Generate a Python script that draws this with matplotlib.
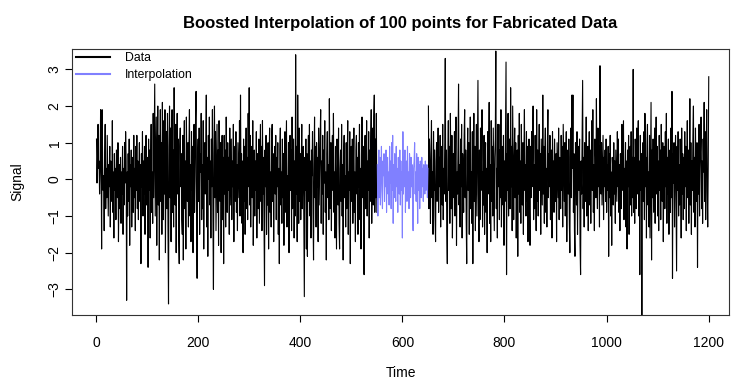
import numpy as np
import matplotlib
matplotlib.use("Agg")
import matplotlib.pyplot as plt

plt.rcParams['font.family'] = ['Liberation Sans', 'DejaVu Sans']

# observed data, t = 1..550
data_a = [
    1.1, -0.1, 0.6, 1.5, 0.3, 0.5, -0.4, 0.2, 1.9, 0.8, -1.9, 1.9, 0.4, -0.3, 0.1, -1.4, 0.6, 1.5, -0.8, 0.3, -0.5, 1.2, 0.0, -1.0, 0.4, -0.2, 0.9, -1.3, 0.5, 0.1, -0.6, 1.6, -0.9, 0.2, -1.6, 0.7, -0.3, 0.3, -1.1, 0.8, 0.1, -0.5, 1.0, -1.7, -0.2, 0.4, -0.8, 0.6, -1.2, 0.2,
    -0.4, 0.9, -1.5, 0.3, -0.7, 1.0, -0.1, 1.3, 0.5, -3.3, 0.2, -1.0, 0.7, -0.6, 1.1, -1.8, 0.4, -0.2, 0.8, -1.3, 0.0, 0.6, -0.9, 1.2, -0.5, 0.3, -1.4, 0.9, -0.3, 1.2, -0.8, 0.5, -1.1, 0.2, 1.0, -0.6, 0.4, -2.3, 0.7, -0.2, 1.3, -1.0, 0.5, -0.4, 0.9, -1.5, 0.1, 1.2, -0.7, 0.3,
    0.6, -2.4, 1.1, -0.3, 0.8, -1.6, 0.4, 1.5, -0.9, 0.2, -1.2, 1.8, -0.5, 0.9, 2.6, -1.0, 0.3, 1.7, -1.8, 0.6, 2.0, -0.7, 1.2, -2.2, 0.4, 1.9, -0.6, 1.0, -1.5, 2.1, 0.2, -1.1, 1.6, -0.4, 1.9, -2.0, 0.7, 1.3, -0.8, 1.8, -1.4, -3.4, 0.9, 2.0, -0.5, 1.4, -1.7, 0.5, 1.9, -0.9,
    0.8, -1.3, 2.5, 0.1, -0.7, 1.5, -2.0, 0.6, 1.8, -0.4, 1.1, -1.6, -2.3, 0.9, 1.4, -0.2, 0.7, -1.1, -1.5, 1.2, -2.2, 0.3, 1.6, -0.8, 0.5, -1.9, 1.7, 0.2, -0.6, 1.0, -1.3, 0.8, 1.9, -1.0, 0.4, -1.7, 1.3, -0.3, 0.9, -2.0, 0.6, 1.5, -0.9, 0.1, 1.7, 2.4, -1.2, -2.7, 0.5, 1.1,
    -0.6, 1.4, -1.5, 0.7, 0.2, 1.8, -1.1, 0.4, -0.8, 1.6, -1.9, 0.3, 1.0, -0.4, 0.8, 2.3, -1.3, 0.6, -2.1, 1.2, 0.0, 1.7, -0.7, 0.5, -1.6, 1.1, -0.2, 1.9, -1.0, -3.0, 0.7, 2.0, -0.5, 1.3, -1.4, 0.2, 1.5, -0.9, 0.8, -1.8, 1.6, 0.3, -0.6, 1.0, -2.0, 0.4, 1.2, -1.1, 0.6, -2.3,
    1.2, -0.4, 0.8, -1.3, 1.7, 0.2, -0.9, 1.0, -0.3, 0.6, -1.5, 1.4, -0.7, 0.3, 1.1, -1.1, 0.5, -0.2, 1.5, -1.7, 0.9, 0.1, -0.6, 1.3, -0.9, 0.4, -1.4, 1.0, 0.2, -0.5, 1.6, -1.0, 2.3, -0.3, 0.7, -1.2, 0.5, -2.0, 1.1, -0.6, 0.9, -1.5, 0.3, 1.4, -0.8, 0.6, -1.1, 1.8, -0.2, 2.5,
    -0.7, 1.2, -1.3, 0.4, 0.9, -0.5, 1.6, -1.8, 0.2, 0.8, -1.0, 0.5, -0.3, 1.3, -1.6, 0.7, 0.1, -0.8, 1.1, -1.2, 0.3, 1.5, -0.6, 0.9, -1.4, 1.6, -0.4, 0.6, -1.1, -2.9, 0.8, -0.2, 1.2, -1.5, 0.4, -0.7, 1.0, -1.9, 0.5, 1.4, -0.9, 0.2, -1.3, 1.1, 1.5, -0.6, 0.7, -1.7, 0.3, 0.9,
    -0.4, 1.2, -1.1, 0.6, -0.2, 1.0, -1.5, 0.3, -2.3, 0.8, 1.4, -0.7, 0.2, -1.2, 1.1, -0.5, 0.7, -1.8, 0.4, 1.3, -0.9, 0.5, 1.6, -1.3, 0.1, -0.6, 1.0, -2.0, 0.6, 1.2, -0.3, 0.8, -1.4, 1.7, -0.8, 0.2, 1.1, -1.6, 0.5, -1.0, 3.4, -0.4, 0.9, -1.7, 2.3, 0.3, -1.2, 1.4, -0.6, 0.7,
    -1.1, 0.4, 1.5, -0.8, 0.2, 0.9, -1.4, -3.2, 0.6, -0.3, 1.1, -1.9, 0.7, -2.1, 0.3, 1.2, -0.6, 1.5, -1.0, 0.5, -1.6, 0.8, 0.1, 1.3, -0.9, -2.2, 0.4, 1.7, -0.5, 0.9, -1.3, 1.0, -0.2, 0.6, -1.7, 1.4, -0.7, 0.3, 1.1, 1.9, -1.2, 0.5, -0.4, 1.2, -1.5, 0.8, -0.1, 1.6, -0.9, 0.2,
    -2.2, 0.7, 1.3, -0.5, 0.4, -1.1, 2.2, 0.3, -0.8, 1.0, -1.4, 0.6, 1.2, -0.3, 1.8, -0.9, 0.2, -1.6, 0.9, -0.4, -1.9, 1.1, 0.5, -0.7, 1.4, -1.2, -1.9, 0.3, 0.8, -0.6, 1.5, -1.0, 0.4, -2.2, 0.7, 1.2, -0.5, 0.1, -1.3, 1.0, -0.8, 0.6, 1.6, -1.5, 0.2, -0.3, 1.3, -2.3, 0.5, 0.9,
    -0.6, 1.1, -1.2, 0.4, 1.4, -0.9, 0.2, -1.7, 0.8, 1.2, -0.4, 0.6, -1.5, 1.0, -0.2, 1.5, -1.1, 0.3, -1.9, 0.7, 1.7, -0.5, 0.9, -1.3, -2.6, 0.4, 1.2, -0.8, 0.1, 1.6, -1.0, 0.5, -0.3, 1.3, -1.6, 0.8, -0.6, 1.0, 1.9, -1.2, 0.3, 1.4, -0.7, 1.7, 2.3, -0.9, 1.1, -0.5, 1.8, -0.9,
]

# boosted interpolation over the gap, t = 551..650
interp = [
    0.4, -1.0, 0.3, 0.8, -0.5, 0.6, -0.7, 0.2, 0.9, -0.3, -0.8, 0.5, 0.1, 0.7, -0.6, 0.4, -0.2, 0.8, -0.9, 0.3, 0.6, -0.4, 0.2, -0.7, 0.9, -0.1, 0.5, -0.8, 1.0, -0.3, 1.2, -1.2, 0.4, -0.5, 0.7, 0.1, -0.6, 0.9, -0.2, 0.3, -0.9, 0.6, 0.0, -0.4, 0.8, -0.7, 0.5, -0.3, 0.2, -1.6,
    1.3, -0.4, 0.6, -0.2, 0.8, -0.9, 0.3, 0.5, -0.6, 0.9, -0.3, 0.2, -0.8, 0.7, 0.0, -0.5, 0.6, -0.2, 0.4, -0.7, -1.4, 0.3, 0.5, 1.0, -0.4, 0.2, -0.6, 0.7, -0.1, -1.2, 0.6, -0.3, 0.4, -0.8, 0.5, 0.1, -0.5, 0.6, -0.2, 0.3, -0.6, 0.4, 0.0, -0.4, 0.5, -0.3, 0.2, 0.4, -0.5, 0.3,
]

# observed data, t = 651..1200
data_b = [
    2.0, -0.8, 1.1, 0.3, -1.2, 0.7, 1.6, -0.5, 0.2, -1.5, 1.3, -0.3, 0.8, -1.0, -1.7, 0.5, 1.0, -0.6, 0.2, 1.4, -0.9, 0.6, -0.2, 1.2, -1.3, 0.4, 0.9, -0.7, 1.5, -1.1, 0.3, -0.4, 1.0, 3.3, -0.6, 0.8, -1.4, -2.3, 0.5, 1.6, -0.3, 0.9, -1.2, 1.8, 0.2, -0.8, 1.2, -1.6, 0.4, 0.7,
    -0.5, 1.3, -1.0, 0.6, 1.7, -1.8, 0.2, -0.4, 0.9, 2.6, -0.7, 0.4, -1.3, 1.1, -0.2, 1.5, -1.6, 0.7, 0.1, -0.9, 1.2, 1.9, -0.5, 0.8, -1.1, -2.3, 0.6, 1.4, -0.3, 1.0, -1.5, 0.4, 1.7, -0.8, 0.2, -1.2, 1.3, -2.3, 0.5, 1.8, -0.6, 0.9, -1.4, 0.3, 1.5, -1.0, 0.7, 2.7, -0.4, -1.7,
    0.8, -1.1, 1.4, -0.3, 0.6, 1.9, -1.3, 0.2, -0.7, 1.2, -1.5, 0.5, 1.0, -0.9, 0.3, -2.0, 1.3, -0.4, 0.7, 2.1, -1.2, 0.4, -1.7, 1.6, -0.6, 0.9, -1.0, 1.4, 0.1, -1.4, 0.6, 1.1, 3.5, -0.8, 0.3, -1.6, 1.5, -0.2, 1.5, -1.1, 0.8, -0.5, 1.9, -1.3, 0.4, 0.9, -0.7, 1.2, -1.8, 0.5,
    -0.6, 1.3, 3.2, -2.6, 0.7, -0.3, 1.8, -1.0, 0.4, 1.1, -0.8, 2.5, -0.2, 0.9, -1.4, 2.0, 0.3, -1.1, 0.6, 1.4, -0.5, 1.0, -1.6, 0.2, 0.8, -2.1, 1.2, -0.4, 1.8, -0.9, 0.5, -1.2, 1.5, 0.1, -0.7, 1.0, -1.5, 0.6, 1.9, -0.3, 0.4, -1.0, 1.3, -0.6, 0.9, -1.7, 0.2, 1.1, -0.8, -1.8,
    0.9, -0.5, 1.3, -0.2, 0.6, 2.0, -1.1, 0.4, -0.8, 1.2, 0.1, -1.4, 1.9, -0.6, 0.8, -1.0, 0.5, 1.5, -0.3, 0.7, -1.5, 1.1, 0.2, -0.7, 2.3, -0.4, 0.9, -1.2, 0.6, 1.4, -0.9, 0.3, -1.3, 1.0, 1.9, -0.5, 0.7, -0.2, 1.2, -1.1, 0.4, 0.8, -1.6, 1.3, -0.3, 0.5, -0.9, 1.1, 0.0, -0.6,
    0.7, -1.7, 1.0, 0.3, -0.5, 1.4, -1.1, 0.6, 0.2, -0.8, 1.2, -0.3, 0.9, -1.3, 1.5, 0.4, -0.6, 1.0, -1.0, 0.5, 1.3, -1.7, 0.2, 0.8, -0.4, 1.1, -1.2, -2.0, 0.6, 1.4, -0.5, 2.3, 0.3, 2.3, -0.9, 0.7, -1.4, -2.1, 1.0, 0.4, -0.7, 1.3, -1.5, 0.2, 0.9, -0.3, 1.1, -1.8, -2.6, 0.5,
    -0.4, 1.2, 2.7, -0.8, 0.6, -1.3, 1.0, 0.3, -0.6, 1.7, -1.0, 0.4, 0.9, -1.4, 0.2, 1.3, -0.7, 0.8, -1.2, 0.5, 1.6, -0.3, 1.9, -0.9, 0.4, -1.4, 1.1, 0.6, -0.5, 2.2, 0.1, -0.8, 1.4, -0.2, 0.9, -1.3, 3.1, 0.5, -0.4, 1.0, -0.7, 0.3, 1.2, -1.1, 0.6, -0.2, 0.8, -0.6, 1.1, -0.9,
    0.4, -0.3, 0.9, -2.1, 0.7, -0.5, 1.2, -1.0, 0.2, -1.8, 0.6, 0.3, -0.7, 1.0, -0.4, 0.5, -1.2, 0.8, 0.1, -0.6, 1.3, -0.2, 1.1, -0.9, 0.4, -1.4, 0.7, 0.2, -0.8, 1.5, -0.3, 0.6, 1.6, -1.1, 0.3, -0.5, 1.0, -1.3, 0.5, -1.9, 0.8, -0.2, 1.2, -1.5, 0.4, 0.9, -0.7, 1.3, -1.0, 0.6,
    -0.5, 3.0, -0.9, 0.6, -1.2, 1.1, 0.3, -0.8, 1.4, -0.4, 0.9, 1.6, -1.0, 0.5, -2.6, 1.2, -0.3, 0.7, -3.9, 0.4, 1.0, -0.6, 1.3, -1.1, 1.8, -0.2, 0.6, -1.6, 0.9, 1.5, -0.7, 0.2, -1.3, 1.2, -1.6, 0.4, 2.1, -2.2, 0.8, -0.5, 1.1, -0.9, 0.3, 1.4, -1.2, 0.6, 1.7, -0.4, 0.9, -1.0,
    0.5, -1.4, 1.2, -0.3, 0.8, -1.1, 1.5, 0.2, -0.6, 1.0, -1.7, 0.4, 0.9, -0.8, 1.3, -0.2, 1.8, -1.2, 0.6, -0.4, 1.1, -1.5, 0.3, 0.8, -0.9, 1.4, -0.5, 2.4, -2.7, 0.7, -0.1, 1.0, -1.3, 0.5, 1.2, -0.6, -2.5, 0.9, -0.3, 1.3, -1.0, 0.4, -0.7, 1.1, 0.2, -1.6, 1.4, -0.4, 0.7, -1.1,
    0.6, -0.8, 1.3, -0.2, 0.9, -1.4, 0.4, 1.6, -0.5, 0.8, -1.2, 0.3, 2.2, -0.7, 1.0, -1.5, 0.5, -0.3, 1.2, 2.0, -0.9, 0.6, -1.3, 1.4, 0.1, -0.6, 1.0, -2.4, 0.7, -0.4, 1.5, -1.0, 0.3, 0.9, 1.7, -0.8, 0.5, -1.2, 1.1, 0.2, 2.1, -0.6, 1.3, -1.1, 0.8, 1.9, -0.3, -1.3, 0.4, 2.8,
]

t_a = np.arange(1, len(data_a) + 1)
t_i = np.arange(len(data_a) + 1, len(data_a) + len(interp) + 1)
t_b = np.arange(len(data_a) + len(interp) + 1, len(data_a) + len(interp) + len(data_b) + 1)

fig = plt.figure(figsize=(7.31, 3.79), dpi=100)
ax = fig.add_axes([0.0985, 0.169, 0.899, 0.703])

ax.plot(t_a, data_a, color='black', lw=0.8, label='Data')
ax.plot(t_b, data_b, color='black', lw=0.8)
ax.plot(t_i, interp, color='#8080ff', lw=0.8, label='Interpolation')

ax.set_xlim(-47, 1240)
ax.set_ylim(-3.70, 3.57)
ax.set_xticks(range(0, 1201, 200))
ax.set_yticks(range(-3, 4))
ax.tick_params(axis='x', length=5, width=0.8, labelsize=10, pad=10)
ax.tick_params(axis='y', length=5, width=0.8, labelsize=10, pad=2.5, labelrotation=90)
for lab in ax.get_yticklabels():
    lab.set_verticalalignment('center')
for s in ax.spines.values():
    s.set_linewidth(0.8)
    s.set_color('#333333')

ax.set_xlabel('Time', fontsize=10, labelpad=11.5)
ax.set_ylabel('Signal', fontsize=10, labelpad=17)
ax.set_title('Boosted Interpolation of 100 points for Fabricated Data',
             fontsize=12, fontweight='bold', pad=15)

leg = ax.legend(loc='upper left', frameon=False, fontsize=8.8, handlelength=2.8,
                handletextpad=1.2, labelspacing=0.4, borderaxespad=0.1,
                borderpad=0.2)
for h in leg.get_lines():
    h.set_linewidth(1.5)

fig.savefig('out.png', dpi=100)
